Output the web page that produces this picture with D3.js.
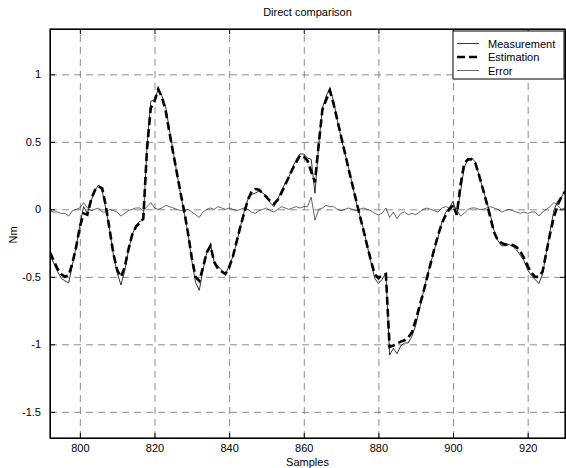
<!DOCTYPE html>
<html>
<head>
<meta charset="utf-8">
<script src="https://cdn.jsdelivr.net/npm/d3@7.9.0/dist/d3.min.js"></script>
<style>
  body { margin: 0; background: #fff; }
  svg { font-family: Arial, "Liberation Sans", sans-serif; }
  .grid line { stroke: #6e6e6e; stroke-dasharray: 7,5; stroke-width: 0.8; }
  .grid path { display: none; }
  .axis path, .axis line { stroke: #000; }
  .axis text { font-size: 11px; fill: #000; }
</style>
</head>
<body>
<svg id="chart" width="566" height="468"></svg>
<script>
// sample index of the first value
const firstSample = 792;

const xTicks = [800, 820, 840, 860, 880, 900, 920];
const yTicks = [-1.5, -1, -0.5, 0, 0.5, 1];
const yTickLabels = ['-1.5', '-1', '-0.5', '0', '0.5', '1'];

const measurement = [
  -0.33, -0.40, -0.46, -0.51, -0.53, -0.545, -0.41, -0.28, -0.12, 0.02,
  -0.03, 0.06, 0.14, 0.18, 0.135, 0.0, -0.155, -0.34, -0.47, -0.56,
  -0.46, -0.31, -0.19, -0.12, -0.09, -0.08, 0.47, 0.80, 0.81, 0.89,
  0.84, 0.76, 0.59, 0.43, 0.27, 0.11, -0.03, -0.18, -0.38, -0.54,
  -0.60, -0.45, -0.32, -0.26, -0.39, -0.42, -0.45, -0.48, -0.42, -0.35,
  -0.25, -0.13, -0.02, 0.07, 0.11, 0.12, 0.135, 0.12, 0.10, 0.05,
  0.02, 0.07, 0.14, 0.19, 0.24, 0.31, 0.37, 0.41, 0.41, 0.38,
  0.37, 0.12, 0.48, 0.75, 0.84, 0.90, 0.80, 0.66, 0.53, 0.42,
  0.31, 0.185, 0.06, -0.045, -0.145, -0.27, -0.39, -0.51, -0.55, -0.52,
  -0.47, -1.08, -1.03, -1.07, -1.01, -0.99, -0.99, -0.94, -0.86, -0.74,
  -0.62, -0.50, -0.40, -0.30, -0.21, -0.095, -0.025, 0.01, 0.06, -0.04,
  0.13, 0.31, 0.37, 0.38, 0.35, 0.25, 0.15, 0.06, -0.04, -0.16,
  -0.23, -0.27, -0.27, -0.26, -0.275, -0.30, -0.34, -0.38, -0.45, -0.49,
  -0.52, -0.55, -0.48, -0.32, -0.16, -0.01, 0.06, 0.09, 0.14
];

const estimation = [
  -0.32, -0.38, -0.44, -0.48, -0.50, -0.49, -0.40, -0.28, -0.13, -0.03,
  -0.04, 0.07, 0.14, 0.17, 0.155, 0.02, -0.155, -0.33, -0.45, -0.50,
  -0.43, -0.30, -0.19, -0.13, -0.10, -0.07, 0.45, 0.75, 0.80, 0.89,
  0.83, 0.73, 0.57, 0.42, 0.27, 0.12, -0.02, -0.18, -0.36, -0.50,
  -0.53, -0.43, -0.32, -0.27, -0.39, -0.44, -0.46, -0.48, -0.43, -0.35,
  -0.24, -0.13, -0.03, 0.07, 0.13, 0.15, 0.145, 0.12, 0.09, 0.06,
  0.04, 0.07, 0.12, 0.18, 0.24, 0.30, 0.35, 0.40, 0.39, 0.36,
  0.28, 0.20, 0.48, 0.74, 0.81, 0.88, 0.78, 0.66, 0.54, 0.42,
  0.30, 0.185, 0.07, -0.045, -0.155, -0.27, -0.38, -0.48, -0.51, -0.49,
  -0.48, -1.02, -1.01, -0.995, -0.98, -0.97, -0.95, -0.91, -0.82, -0.72,
  -0.62, -0.51, -0.40, -0.29, -0.19, -0.105, -0.045, 0.0, 0.03, -0.04,
  0.18, 0.34, 0.37, 0.37, 0.34, 0.25, 0.15, 0.05, -0.06, -0.17,
  -0.23, -0.25, -0.26, -0.26, -0.265, -0.28, -0.31, -0.36, -0.42, -0.47,
  -0.50, -0.50, -0.46, -0.32, -0.18, -0.06, 0.03, 0.09, 0.13
];

const error = [
  -0.01, -0.02, -0.02, -0.03, -0.03, -0.05, -0.01, 0.0, 0.01, 0.05,
  0.01, -0.01, 0.0, 0.01, -0.02, -0.02, 0.0, -0.01, -0.02, -0.05,
  -0.03, -0.01, 0.0, 0.01, 0.01, -0.01, 0.02, 0.05, 0.01, 0.0,
  0.01, 0.03, 0.02, 0.01, 0.0, -0.01, -0.01, 0.0, -0.02, -0.04,
  -0.06, -0.02, 0.0, 0.01, 0.0, 0.02, 0.01, 0.0, 0.01, 0.0,
  -0.01, 0.0, 0.01, 0.0, -0.02, -0.03, -0.01, 0.0, 0.01, -0.01,
  -0.02, 0.0, 0.02, 0.01, 0.0, 0.01, 0.02, 0.01, 0.02, 0.02,
  0.09, -0.08, 0.0, 0.01, 0.03, 0.02, 0.02, 0.0, -0.01, 0.0,
  0.01, 0.0, -0.01, 0.0, 0.01, 0.0, -0.01, -0.03, -0.04, -0.03,
  0.01, -0.06, -0.02, -0.07, -0.03, -0.02, -0.04, -0.03, -0.04, -0.02,
  0.0, 0.01, 0.0, -0.01, -0.02, 0.01, 0.02, 0.01, 0.03, 0.0,
  -0.05, -0.03, 0.0, 0.01, 0.01, 0.0, 0.0, 0.01, 0.02, 0.01,
  0.0, -0.02, -0.01, 0.0, -0.01, -0.02, -0.03, -0.02, -0.03, -0.02,
  -0.02, -0.05, -0.02, 0.0, 0.02, 0.05, 0.03, 0.0, 0.01
];

const legendLabels = ['Measurement', 'Estimation', 'Error'];

const margin = { top: 29, right: 1, bottom: 30, left: 50 };
const width = 566 - margin.left - margin.right;
const height = 468 - margin.top - margin.bottom;

const svg = d3.select('#chart');
const g = svg.append('g').attr('transform', `translate(${margin.left},${margin.top})`);

const x = d3.scaleLinear().domain([792, 930]).range([0, width]);
const y = d3.scaleLinear().domain([-1.694, 1.336]).range([height, 0]);

// grid
g.append('g').attr('class', 'grid')
  .attr('transform', `translate(0,${height})`)
  .call(d3.axisBottom(x).tickValues(xTicks).tickSize(-height).tickFormat(''));
g.append('g').attr('class', 'grid')
  .call(d3.axisLeft(y).tickValues(yTicks).tickSize(-width).tickFormat(''));

g.append('clipPath').attr('id', 'clip')
  .append('rect').attr('width', width).attr('height', height);

const line = d3.line()
  .x((d, i) => x(firstSample + i))
  .y(d => y(d));

const plot = g.append('g').attr('clip-path', 'url(#clip)');

plot.append('path').datum(measurement)
  .attr('d', line).attr('fill', 'none')
  .attr('stroke', '#000').attr('stroke-width', 0.8);

plot.append('path').datum(estimation)
  .attr('d', line).attr('fill', 'none')
  .attr('stroke', '#000').attr('stroke-width', 2.6)
  .attr('stroke-dasharray', '8,4');

plot.append('path').datum(error)
  .attr('d', line).attr('fill', 'none')
  .attr('stroke', '#000').attr('stroke-width', 0.6);

// axes, ticks pointing inside
g.append('g').attr('class', 'axis')
  .attr('transform', `translate(0,${height})`)
  .call(d3.axisBottom(x).tickValues(xTicks).tickSizeInner(-5).tickSizeOuter(0).tickPadding(6));
g.append('g').attr('class', 'axis')
  .call(d3.axisTop(x).tickValues(xTicks).tickSizeInner(-5).tickSizeOuter(0).tickFormat(''));
g.append('g').attr('class', 'axis')
  .call(d3.axisLeft(y).tickValues(yTicks).tickSizeInner(-5).tickSizeOuter(0).tickPadding(9)
    .tickFormat((d, i) => yTickLabels[i]));
g.append('g').attr('class', 'axis')
  .attr('transform', `translate(${width},0)`)
  .call(d3.axisRight(y).tickValues(yTicks).tickSizeInner(-5).tickSizeOuter(0).tickFormat(''));

g.append('rect').attr('width', width).attr('height', height)
  .attr('fill', 'none').attr('stroke', '#000').attr('stroke-width', 1.2);

// titles
svg.append('text').attr('x', margin.left + width / 2).attr('y', 16)
  .attr('text-anchor', 'middle').attr('font-size', 11).text('Direct comparison');
svg.append('text').attr('x', margin.left + width / 2).attr('y', 466)
  .attr('text-anchor', 'middle').attr('font-size', 11).text('Samples');
svg.append('text').attr('transform', 'translate(17,235) rotate(-90)')
  .attr('text-anchor', 'middle').attr('font-size', 11).text('Nm');

// legend
const legend = svg.append('g').attr('transform', 'translate(453,31)');
legend.append('rect').attr('width', 111).attr('height', 48)
  .attr('fill', '#fff').attr('stroke', '#000').attr('stroke-width', 1);
const styles = [
  { w: 0.8, dash: null },
  { w: 2.6, dash: '8,4' },
  { w: 0.6, dash: null }
];
legendLabels.forEach((label, i) => {
  const cy = 12.5 + i * 13.5;
  legend.append('line').attr('x1', 4).attr('x2', 26).attr('y1', cy).attr('y2', cy)
    .attr('stroke', '#000').attr('stroke-width', styles[i].w)
    .attr('stroke-dasharray', styles[i].dash);
  legend.append('text').attr('x', 35).attr('y', cy + 4)
    .attr('font-size', 11).text(label);
});
</script>
</body>
</html>
